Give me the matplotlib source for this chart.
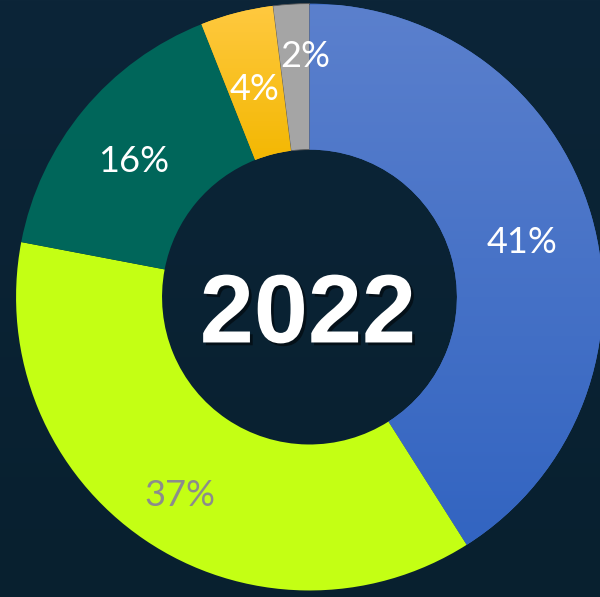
import numpy as np
import matplotlib.pyplot as plt
from matplotlib.colors import LinearSegmentedColormap
import matplotlib.patheffects as pe

# ---------- DATA ----------
labels = ["41%", "37%", "16%", "4%", "2%"]
values = [41, 37, 16, 4, 2]
colors = ["#4672C8", "#C4FF14", "#00665A", "#FABE1E", "#A5A5A5"]
label_colors = ["white", "#8C8C8C", "white", "white", "white"]
label_dist = [0.76, 0.79, 0.77, 0.76, 0.85]
label_dx = [0, 0, -0.01, 0, 0.04]
gradients = {0: ("#5B80CD", "#2F62C0"), 3: ("#FFC940", "#F3B700")}
center_text = "2022"

# ---------- FIGURE ----------
fig = plt.figure(figsize=(6, 5.97), dpi=100)
fig.patch.set_facecolor("#0A2133")
ax = fig.add_axes([0, 0, 1, 1])
ax.set_facecolor("#0A2133")

# soft background shading
bg = np.linspace(0, 1, 200).reshape(-1, 1) * np.ones((1, 200))
bg_cmap = LinearSegmentedColormap.from_list("bg", ["#0C2538", "#08202F"])
ax.imshow(bg, cmap=bg_cmap, extent=(-1.06, 1.01, -1.03, 1.02), aspect="auto", zorder=0)

wedges, _ = ax.pie(values, colors=colors, startangle=90, counterclock=False,
                   radius=1.005, center=(0.005, 0),
                   wedgeprops=dict(width=0.5, linewidth=0))
for w in wedges:
    w.set_zorder(2)
wedges[-1].set_edgecolor("#5A5A5A")
wedges[-1].set_linewidth(0.6)

# gradient fills for some slices
for i, (c_top, c_bot) in gradients.items():
    w = wedges[i]
    cmap = LinearSegmentedColormap.from_list(f"g{i}", [c_top, c_bot])
    ymin = -1 if i == 0 else 0.45
    grad = np.linspace(0, 1, 256).reshape(-1, 1)
    im = ax.imshow(grad, cmap=cmap, extent=(-1, 1.01, ymin, 1), aspect="auto", zorder=3)
    im.set_clip_path(w)

# percentage labels
total = sum(values)
start = 90.0
for lab, v, col, d, dx in zip(labels, values, label_colors, label_dist, label_dx):
    mid = np.deg2rad(start - v / total * 360 / 2)
    start -= v / total * 360
    ax.text(0.005 + dx + d * np.cos(mid), d * np.sin(mid) - 0.025, lab, color=col,
            fontsize=26, fontfamily="Lato", ha="center", va="center", zorder=5)

ax.text(0, -0.07, center_text, color="white", fontsize=70, fontweight="bold",
        fontfamily="Liberation Sans", ha="center", va="center", zorder=5,
        path_effects=[pe.withSimplePatchShadow(offset=(2, -2), shadow_rgbFace="black", alpha=0.5)])

ax.set_xlim(-1.055, 1.0)
ax.set_ylim(-1.027, 1.017)
ax.set_aspect("equal")
ax.axis("off")

fig.savefig("out.png", dpi=100, facecolor=fig.get_facecolor())
